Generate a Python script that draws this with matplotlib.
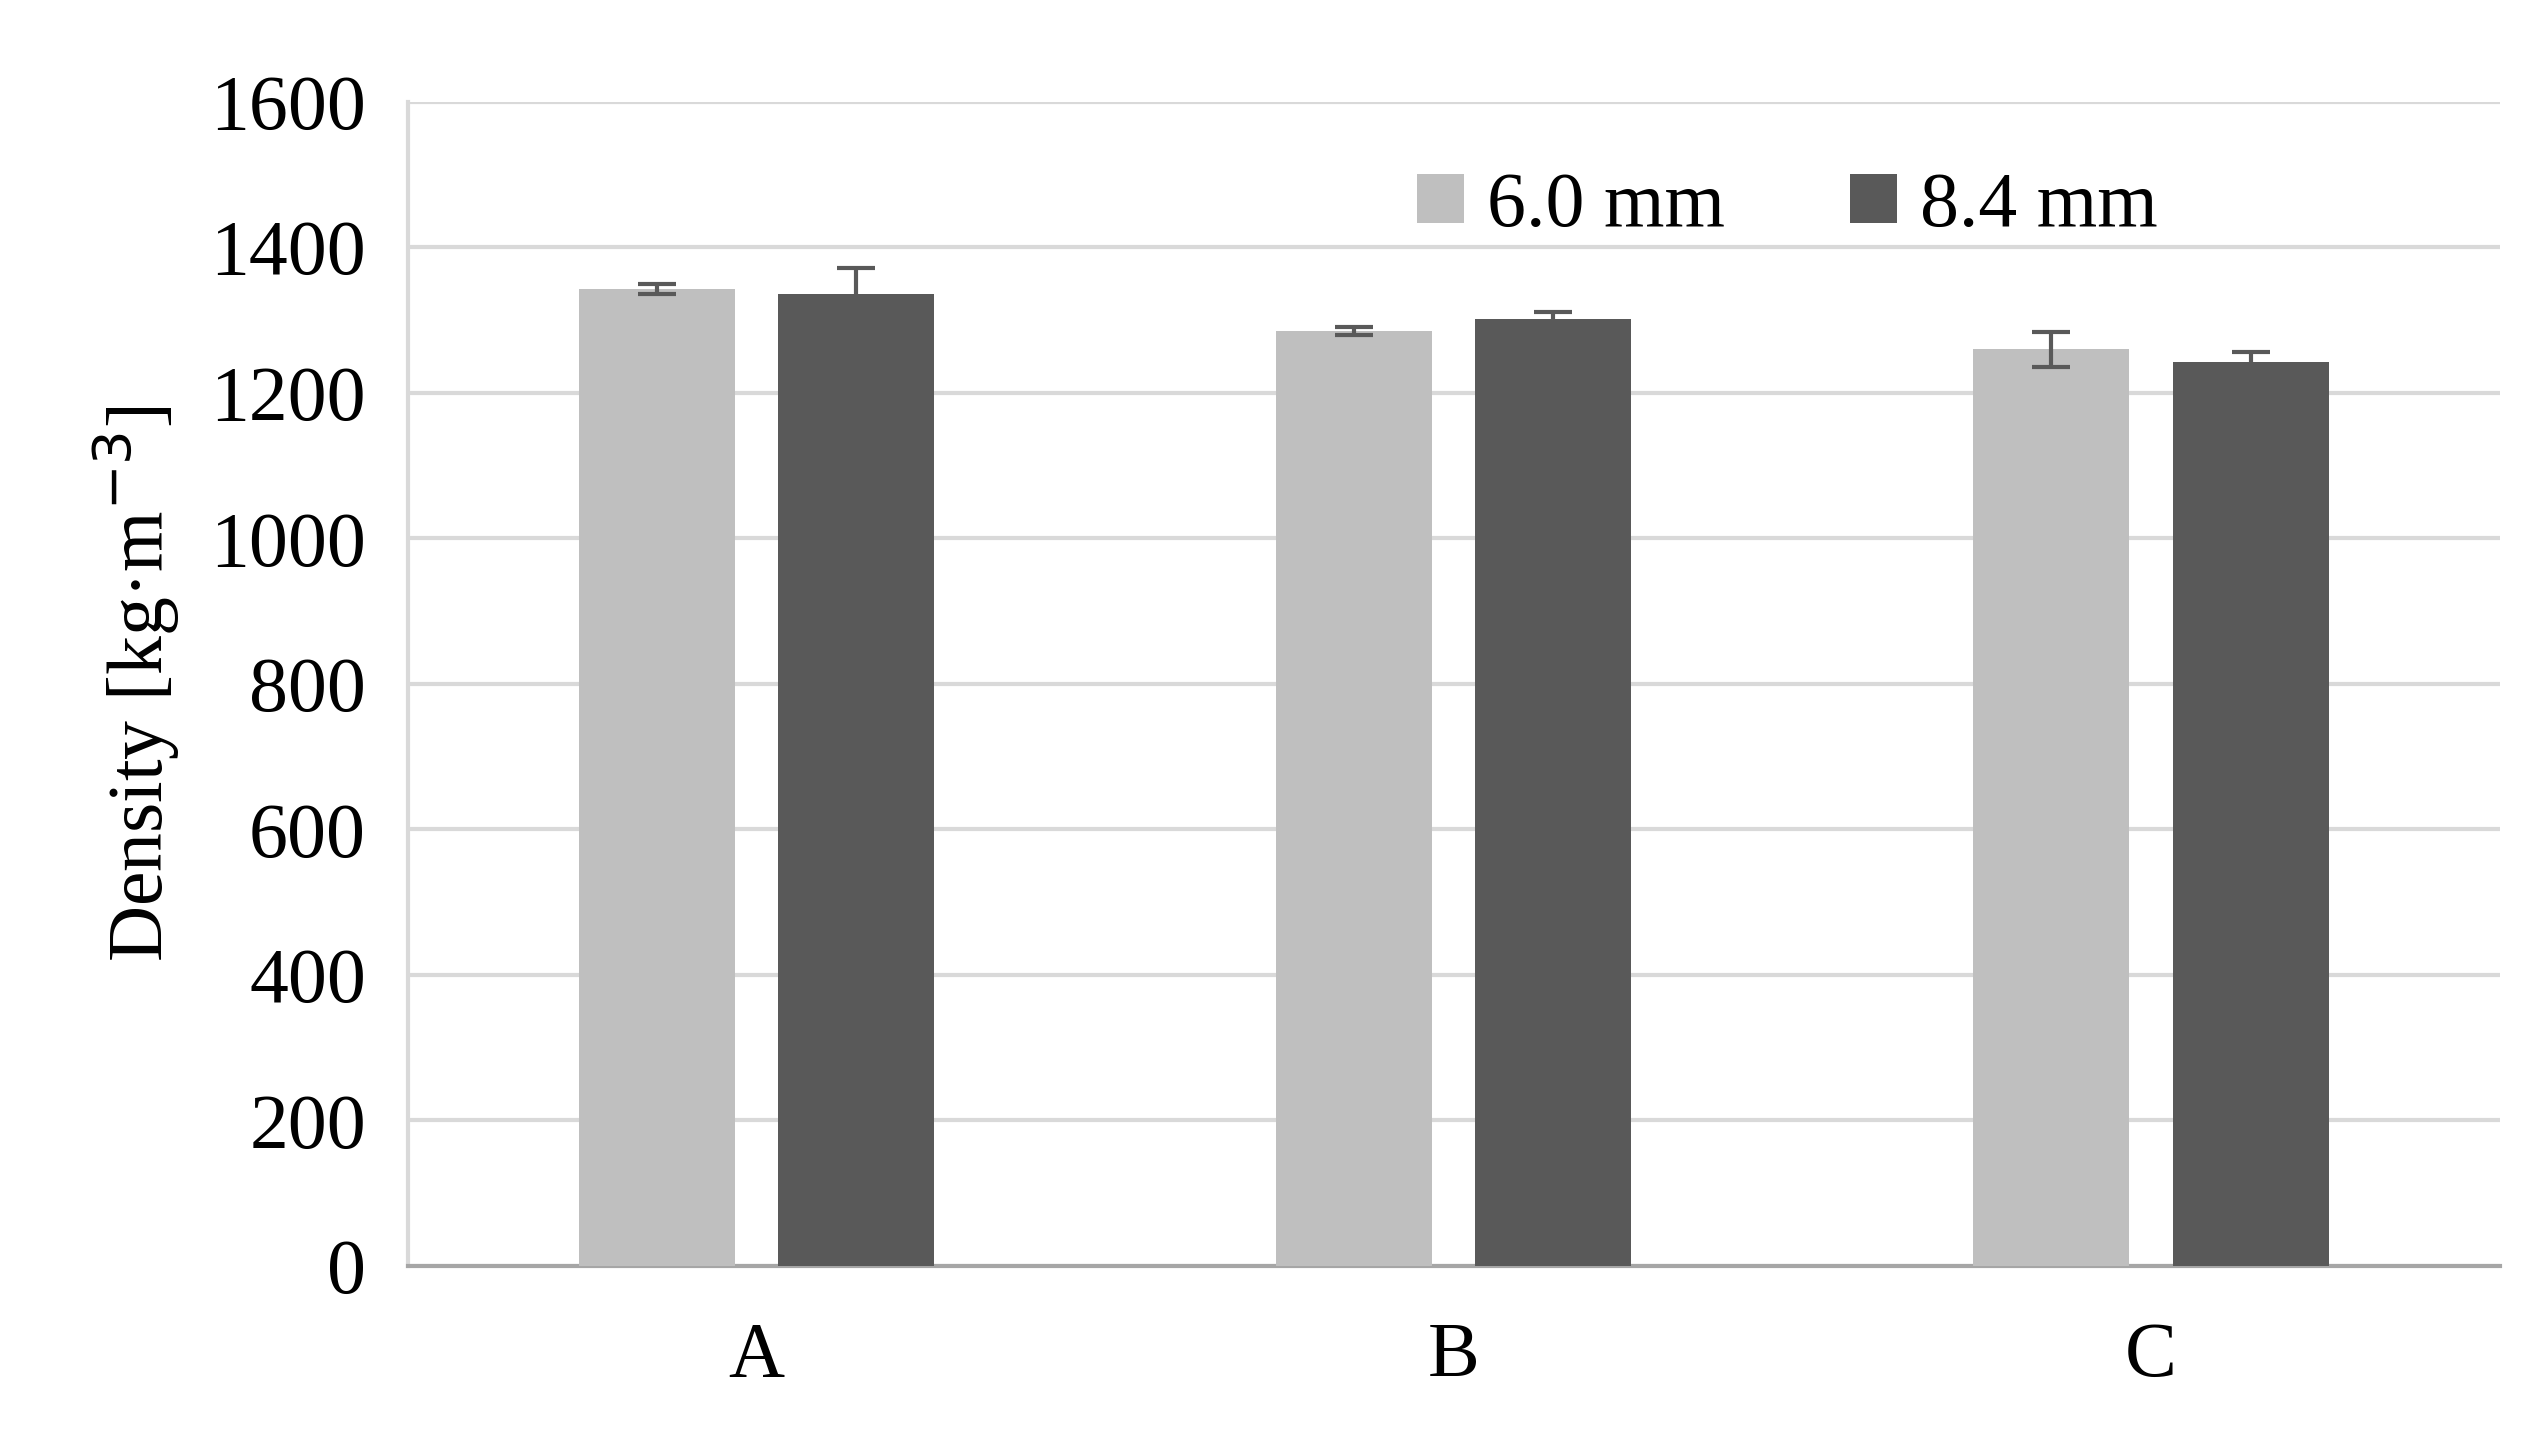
import matplotlib
matplotlib.use("Agg")
import matplotlib.pyplot as plt
import numpy as np

categories = ["A", "B", "C"]
series_names = ["6.0 mm", "8.4 mm"]
vals_60 = [1342, 1285, 1260]
err_60 = [7, 6, 24]
vals_84 = [1335, 1301, 1242]
err_84 = [36, 10, 14]
yticks = [0, 200, 400, 600, 800, 1000, 1200, 1400, 1600]

plt.rcParams['font.family'] = ['Liberation Serif', 'DejaVu Serif']
fig = plt.figure(figsize=(25.48, 14.32), dpi=100)
ax = fig.add_axes([0.160, 0.116, 0.821, 0.813])
x = np.arange(len(categories))
w = 0.224; off = 0.143
ek = dict(ecolor='#595959', elinewidth=3, capsize=14, capthick=3)
ax.bar(x - off, vals_60, w, yerr=err_60, color='#bfbfbf', label=series_names[0], error_kw=ek, zorder=3)
ax.bar(x + off, vals_84, w, yerr=err_84, color='#595959', label=series_names[1], error_kw=ek, zorder=3)
ax.set_xlim(-0.5, 2.5)
ax.set_ylim(0, 1600)
ax.set_yticks(yticks)
ax.set_xticks(x)
ax.set_xticklabels(categories)
ax.grid(axis='y', color='#d9d9d9', lw=3, zorder=0)
for s in ['top', 'right']:
    ax.spines[s].set_visible(False)
ax.spines['left'].set_color('#d9d9d9'); ax.spines['left'].set_linewidth(3)
ax.spines['bottom'].set_color('#a6a6a6'); ax.spines['bottom'].set_linewidth(3)
ax.tick_params(axis='both', labelsize=56, length=0)
ax.tick_params(axis='y', pad=30)
ax.tick_params(axis='x', pad=40)
ax.set_ylabel("Density [kg·m$^{-3}$]", fontsize=56, labelpad=20)
ax.legend(ncol=2, frameon=False, fontsize=56, loc='upper right', bbox_to_anchor=(0.87, 1.0),
          handlelength=0.6, handleheight=0.6, handletextpad=0.3, columnspacing=1.6)
fig.savefig("out.png", dpi=100)
